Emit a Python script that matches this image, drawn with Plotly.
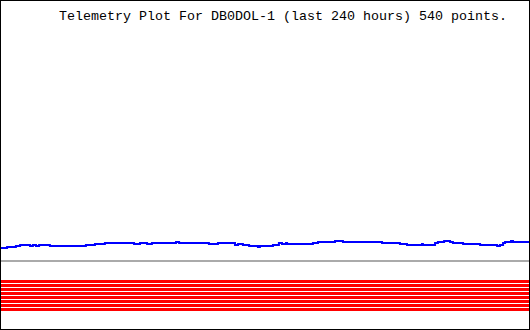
import plotly.graph_objects as go

# ---- data ----
title_text = "Telemetry Plot For DB0DOL-1 (last 240 hours) 540 points."

# main telemetry trace (hours ago -> level, arbitrary units)
hours = [0, 3.2, 7.2, 9.1, 13.6, 14.9, 16.3, 17.7, 22.6, 38.9, 43.0, 47.5, 60.7, 63.4,
         66.6, 68.8, 79.7, 81.1, 94.6, 98.7, 106.4, 107.8, 110.0, 112.8, 116.8, 117.7,
         123.6, 126.3, 127.7, 129.5, 130.0, 141.7, 144.0, 151.7, 155.3, 173.0, 181.1,
         184.3, 191.1, 191.5, 197.0, 198.3, 201.1, 203.8, 205.1, 209.7, 217.4, 225.1,
         226.4, 227.8, 228.7, 231.4, 232.3, 240]
level = [82, 83, 84, 85, 84, 85, 84, 85, 84, 85, 86, 87, 86, 87,
         86, 87, 88, 87, 86, 87, 85, 86, 85, 84, 83, 84,
         85, 87, 86, 87, 86, 87, 88, 89, 88, 87, 86,
         85, 86, 85, 87, 88, 89, 88, 87, 86, 85, 84,
         85, 87, 88, 89, 88, 88]

# reference (gray) level
ref_level = [69, 69]
ref_hours = [0, 240]

# red band channel levels (eight constant channels)
band_levels = [48.5, 44.5, 40.5, 36.5, 32.5, 28.5, 24.5, 20.5]

fig = go.Figure()

for b in band_levels:
    fig.add_trace(go.Scatter(x=ref_hours, y=[b, b], mode="lines",
                             line=dict(color="#ff0000", width=3), hoverinfo="skip"))

fig.add_trace(go.Scatter(x=ref_hours, y=ref_level, mode="lines",
                         line=dict(color="#aaaaaa", width=2), hoverinfo="skip"))

fig.add_trace(go.Scatter(x=hours, y=level, mode="lines",
                         line=dict(color="#0000ff", width=2, shape="hv")))

fig.update_layout(
    width=530, height=330,
    margin=dict(l=0, r=0, t=0, b=0),
    paper_bgcolor="white", plot_bgcolor="white",
    showlegend=False,
    xaxis=dict(range=[0, 240], visible=False, showgrid=False, zeroline=False),
    yaxis=dict(range=[0, 330], visible=False, showgrid=False, zeroline=False),
    annotations=[dict(text=title_text, xref="paper", yref="paper",
                      x=0.534, y=0.949, xanchor="center", yanchor="middle",
                      showarrow=False,
                      font=dict(family="Liberation Mono", size=13.33, color="black"))],
    shapes=[dict(type="rect", xref="paper", yref="paper", x0=0, x1=1, y0=0, y1=1,
                 line=dict(color="black", width=2), fillcolor="rgba(0,0,0,0)")],
)

fig.write_html("out.html")
